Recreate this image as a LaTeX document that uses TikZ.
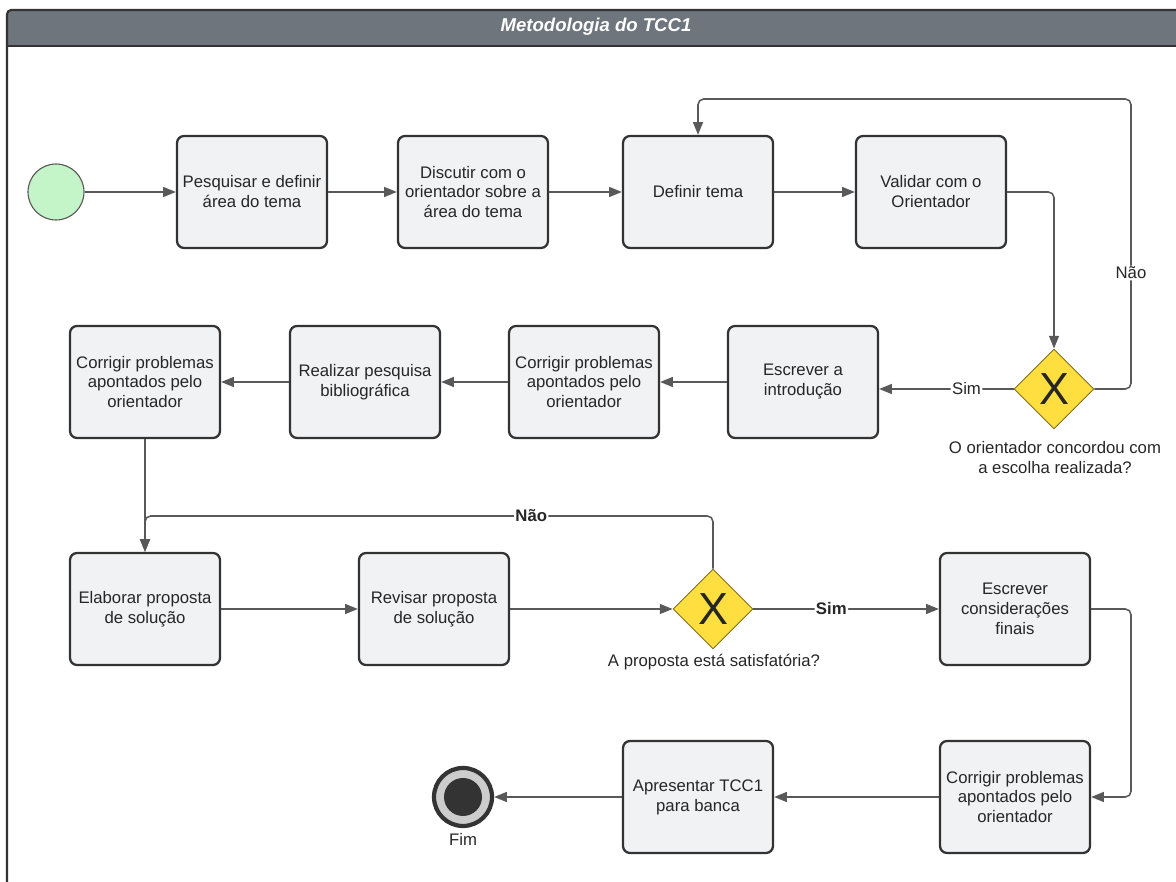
\documentclass[tikz,border=0pt]{standalone}
\usepackage{fontspec}
\setmainfont{Liberation Sans}
\usetikzlibrary{arrows.meta,shapes.geometric,calc}
\definecolor{barcol}{HTML}{6E757C}
\definecolor{framecol}{HTML}{333333}
\definecolor{boxfill}{HTML}{F1F2F4}
\definecolor{boxline}{HTML}{333333}
\definecolor{flowcol}{HTML}{595959}
\definecolor{gatefill}{HTML}{FFDF40}
\definecolor{gateline}{HTML}{7F6F20}
\definecolor{startfill}{HTML}{C4F5C9}
\definecolor{txtcol}{HTML}{262626}

\begin{document}
\begin{tikzpicture}[
  >={Triangle[length=9pt,width=7pt]},
  font=\fontsize{11.9}{14.2}\selectfont,
  text=txtcol,
  task/.style={draw=boxline,fill=boxfill,line width=1.6pt,rounded corners=5pt,
    minimum width=3.75cm,minimum height=2.8cm,align=center},
  gate/.style={diamond,draw=gateline,fill=gatefill,line width=0.6pt,
    minimum width=2cm,minimum height=2cm,inner sep=0pt,
    font=\fontsize{32}{32}\selectfont},
  flow/.style={->,draw=flowcol,line width=1.1pt,rounded corners=4pt},
  lbl/.style={fill=white,inner sep=1pt},
  boldlbl/.style={lbl,font=\fontsize{11.9}{14.2}\selectfont\bfseries}
]
  \useasboundingbox (0,0) rectangle (29.4,22.05);
  \clip (0,0) rectangle (29.4,22.05);

  % frame and title bar
  \begin{scope}
    \clip[rounded corners=3pt] (0.175,-1) rectangle (30.5,21.8);
    \fill[barcol] (0,20.9) rectangle (30.5,21.8);
  \end{scope}
  \draw[framecol,line width=1.5pt,rounded corners=3pt]
    (0.175,-1) rectangle (30.5,21.8);
  \draw[framecol,line width=1.5pt] (0.175,20.9) -- (30.5,20.9);
  \node[font=\fontsize{13.2}{15}\selectfont\bfseries\itshape,text=white]
    (title) at (14.9,21.37) {Metodologia do TCC1};

  % first row
  \node[circle,draw=flowcol,fill=startfill,line width=0.8pt,
    minimum size=1.4cm] (ini) at (1.4,17.25) {};
  \node[task] (pesq) at (6.3,17.25) {Pesquisar e definir\\área do tema};
  \node[task] (disc) at (11.825,17.25)
    {Discutir com o\\orientador sobre a\\área do tema};
  \node[task] (tema) at (17.45,17.25) {Definir tema};
  \node[task] (valid) at (23.275,17.25) {Validar com o\\Orientador};

  % second row
  \node[gate] (gw1) at (26.35,12.325) {X};
  \node[align=center] (q1) at (26.375,10.6)
    {O orientador concordou com\\a escolha realizada?};
  \node[task] (intro) at (20.075,12.5) {Escrever a\\introdução};
  \node[task] (corr1) at (14.6,12.5)
    {Corrigir problemas\\apontados pelo\\orientador};
  \node[task] (biblio) at (9.125,12.5) {Realizar pesquisa\\bibliográfica};
  \node[task] (corr2) at (3.625,12.5)
    {Corrigir problemas\\apontados pelo\\orientador};

  % third row
  \node[task] (elab) at (3.625,6.825) {Elaborar proposta\\de solução};
  \node[task] (revis) at (10.85,6.825) {Revisar proposta\\de solução};
  \node[gate] (gw2) at (17.825,6.825) {X};
  \node (q2) at (17.85,5.5) {A proposta está satisfatória?};
  \node[task] (final) at (25.375,6.825)
    {Escrever\\considerações\\finais};

  % fourth row
  \node[task] (corr3) at (25.375,2.125)
    {Corrigir problemas\\apontados pelo\\orientador};
  \node[task] (apres) at (17.45,2.125) {Apresentar TCC1\\para banca};
  \node[circle,draw=framecol,fill=black!20,line width=3pt,
    minimum size=1.45cm,label={below:Fim}] (fim) at (11.575,2.125) {};
  \node[circle,fill=framecol,minimum size=0.95cm] (fimin) at (fim) {};

  \coordinate (loopA) at (28.275,19.575);
  \coordinate (loopB) at (3.625,9.15);
  \coordinate (rx) at (28.275,0);

  \draw[flow] (ini) -- (pesq);
  \draw[flow] (pesq) -- (disc);
  \draw[flow] (disc) -- (tema);
  \draw[flow] (tema) -- (valid);
  \draw[flow] (valid.east) -| (gw1.north);
  \draw[flow] (gw1.east) -| (loopA) node[lbl,pos=0.7] {Não} -| (tema.north);
  \draw[flow] (gw1.west) -- (gw1.west -| intro.east)
    node[lbl,pos=0.35] {Sim};
  \draw[flow] (intro) -- (corr1);
  \draw[flow] (corr1) -- (biblio);
  \draw[flow] (biblio) -- (corr2);
  \draw[flow] (corr2) -- (elab);
  \draw[flow] (gw2.north) |- (loopB)
    node[boldlbl,pos=0.66] {Não} -- (elab.north);
  \draw[flow] (elab) -- (revis);
  \draw[flow] (revis) -- (gw2);
  \draw[flow] (gw2) -- (final) node[boldlbl,pos=0.42] {Sim};
  \draw[flow] (final.east) -| (rx |- corr3) -- (corr3.east);
  \draw[flow] (corr3) -- (apres);
  \draw[flow] (apres) -- (fim);
\end{tikzpicture}
\end{document}
